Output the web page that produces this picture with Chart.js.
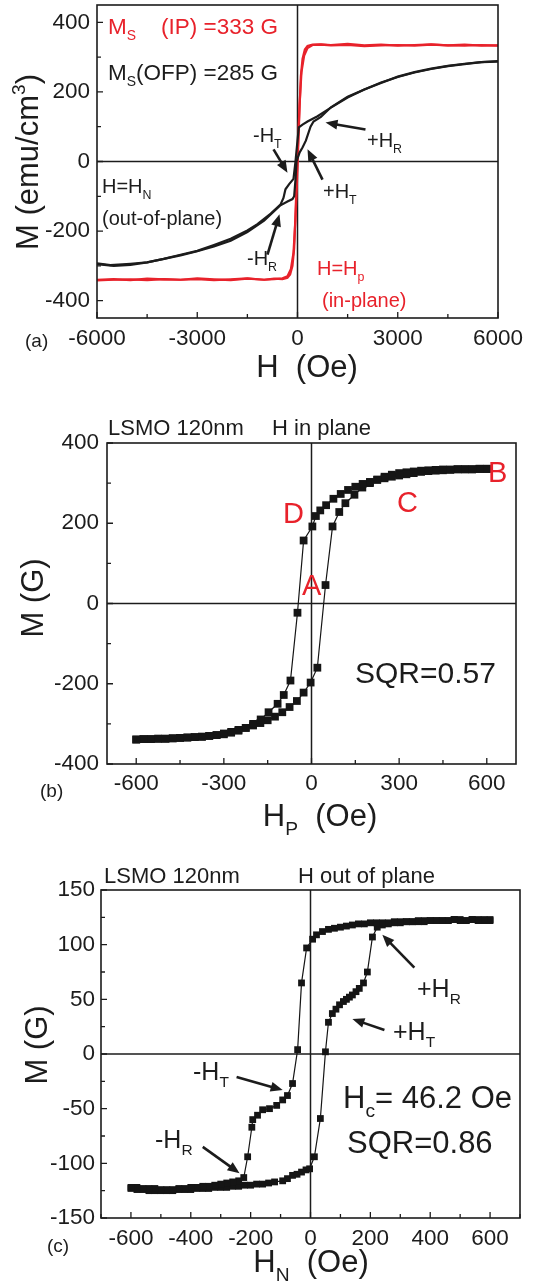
<!DOCTYPE html>
<html>
<head>
<meta charset="utf-8">
<script src="https://cdn.jsdelivr.net/npm/chart.js@4.4.1/dist/chart.umd.min.js"></script>
<style>
  body { margin: 0; background: #fff; width: 550px; height: 1286px; position: relative; overflow: hidden; }
  canvas { position: absolute; left: 0; }
</style>
</head>
<body>
<canvas id="chartA" width="550" height="435" style="top:-35px"></canvas>
<canvas id="chartB" width="550" height="440" style="top:403px"></canvas>
<canvas id="chartC" width="550" height="436" style="top:850px"></canvas>
<script>
// Panel (a): in-plane (red) and out-of-plane (black) loops, H in Oe, M in emu/cm3
const ipDownH = [6000, 5500, 5000, 4500, 4000, 3500, 3000, 2500, 2000, 1500, 1000, 700, 450, 300, 200, 120, 60, 20, -20, -60, -100, -150, -220, -300, -450, -700, -1000, -1500, -2000, -2500, -3000, -3500, -4000, -4500, -5000, -5500, -6000];
const ipDownM = [333, 335, 333, 334, 336, 333, 335, 334, 332, 335, 334, 336, 335, 326, 305, 258, 160, 60, -40, -150, -250, -300, -325, -334, -338, -337, -340, -336, -339, -341, -338, -340, -338, -341, -339, -340, -342];
const ipUpH = [-6000, -5500, -5000, -4500, -4000, -3500, -3000, -2500, -2000, -1500, -1000, -700, -450, -300, -200, -120, -60, -20, 20, 60, 100, 150, 220, 300, 450, 700, 1000, 1500, 2000, 2500, 3000, 3500, 4000, 4500, 5000, 5500, 6000];
const ipUpM = [-340, -338, -341, -337, -339, -340, -336, -339, -341, -337, -340, -338, -336, -330, -310, -262, -165, -70, 40, 150, 245, 295, 322, 332, 336, 337, 335, 338, 334, 336, 333, 335, 337, 334, 336, 333, 334];

const ofpDownH = [6000, 5500, 5000, 4500, 4000, 3500, 3000, 2500, 2000, 1500, 1000, 600, 300, 150, 40, 0, -60, -120, -250, -360, -420, -510, -800, -1200, -1500, -2000, -2500, -3000, -3500, -4000, -4500, -5000, -5600, -6000];
const ofpDownM = [287, 286, 280, 274, 266, 256, 243, 227, 207, 184, 155, 130, 115, 106, 98, 60, 0, -50, -65, -80, -105, -124, -150, -180, -198, -222, -240, -257, -268, -280, -290, -294, -298, -293];
const ofpUpH = [-6000, -5500, -5000, -4500, -4000, -3500, -3000, -2500, -2000, -1500, -1000, -510, -300, -150, -100, -60, -30, 60, 150, 250, 390, 480, 700, 1000, 1500, 2000, 2500, 3000, 3500, 4000, 4500, 5000, 5500, 6000];
const ofpUpM = [-295, -300, -297, -290, -280, -270, -258, -244, -228, -203, -170, -126, -115, -108, -100, -52, 0, 25, 40, 60, 100, 115, 128, 156, 186, 207, 226, 244, 257, 267, 275, 281, 286, 289];

// Panel (b): H in plane, M in G
const bDownH = [600, 575, 550, 525, 500, 475, 450, 425, 400, 375, 350, 325, 300, 275, 250, 225, 200, 175, 150, 125, 100, 75, 50, 30, 15, 3, -27, -48, -72, -95, -116, -147, -174, -200, -225, -250, -275, -300, -325, -350, -375, -400, -425, -450, -475, -500, -525, -550, -575, -600];
const bDownM = [335, 335, 334, 334, 334, 333, 332, 331, 330, 328, 325, 322, 319, 316, 312, 308, 303, 298, 291, 283, 273, 261, 245, 232, 218, 192, 157, -23, -192, -228, -250, -271, -289, -300, -310, -317, -322, -326, -328, -330, -332, -333, -334, -335, -336, -337, -337, -338, -338, -339];
const bUpH = [-600, -575, -550, -525, -500, -475, -450, -425, -400, -375, -350, -325, -300, -275, -250, -225, -200, -175, -150, -125, -100, -75, -50, -27, -3, 20, 48, 72, 95, 116, 147, 174, 200, 225, 250, 275, 300, 325, 350, 375, 400, 425, 450, 475, 500, 525, 550, 575, 600];
const bUpM = [-339, -338, -338, -337, -337, -336, -335, -334, -333, -332, -330, -328, -324, -320, -315, -310, -304, -298, -291, -282, -271, -258, -243, -222, -197, -160, 46, 192, 228, 250, 271, 289, 300, 309, 316, 321, 325, 327, 329, 331, 332, 333, 334, 334, 335, 335, 335, 336, 336];

// Panel (c): H out of plane, M in G
const cDownH = [600, 580, 560, 540, 520, 500, 480, 460, 440, 420, 400, 380, 360, 340, 320, 300, 280, 260, 240, 220, 200, 180, 160, 140, 120, 100, 80, 60, 40, 20, 7, -13, -30, -43, -60, -77, -93, -113, -137, -160, -177, -193, -196, -210, -223, -240, -260, -280, -300, -320, -340, -360, -380, -400, -420, -440, -460, -480, -500, -520, -540, -560, -580, -600];
const cDownM = [123, 123, 122, 123, 122, 122, 123, 122, 122, 122, 122, 121, 122, 121, 121, 121, 121, 120, 120, 120, 120, 119, 119, 118, 117, 116, 115, 114, 112, 109, 105, 97, 65, 4, -27, -38, -42, -47, -50, -51, -56, -60, -67, -94, -113, -116, -117, -118, -119, -120, -121, -121, -122, -122, -123, -123, -124, -124, -124, -123, -123, -123, -122, -122];
const cUpH = [-600, -580, -560, -540, -520, -500, -480, -460, -440, -420, -400, -380, -360, -340, -320, -300, -280, -260, -240, -220, -200, -180, -160, -140, -120, -93, -77, -60, -45, -30, -15, -3, 13, 33, 50, 60, 73, 85, 97, 110, 120, 130, 140, 152, 163, 177, 190, 207, 223, 240, 260, 280, 300, 320, 340, 360, 380, 400, 420, 440, 460, 480, 500, 520, 540, 560, 580, 600];
const cUpM = [-123, -124, -124, -125, -125, -125, -125, -125, -124, -124, -124, -123, -123, -123, -122, -122, -122, -121, -121, -120, -120, -119, -119, -118, -117, -116, -114, -111, -110, -108, -106, -105, -94, -59, 2, 29, 37, 41, 45, 48, 50, 52, 54, 57, 60, 65, 75, 107, 116, 118, 119, 120, 120, 121, 121, 121, 122, 122, 122, 122, 122, 123, 123, 122, 123, 123, 122, 122];

const FONT = '"Liberation Sans", Arial, sans-serif';
const RED = '#e8222b';
const INK = '#1c1c1c';

function pts(hs, ms) {
  return hs.map((h, i) => ({ x: h, y: ms[i] }));
}

// text with sub/superscripts, parts = [[text, 'sub'|'sup'|undefined], ...]
function drawRich(ctx, parts, x, y, size, color, align) {
  let w = 0;
  const pieces = parts.map(p => {
    const kind = p[1] || '';
    const s = kind ? size * 0.62 : size;
    ctx.font = s + 'px ' + FONT;
    const pw = ctx.measureText(p[0]).width;
    w += pw;
    return { text: p[0], kind, s, pw };
  });
  let cx = align === 'center' ? x - w / 2 : x;
  ctx.fillStyle = color;
  ctx.textAlign = 'left';
  ctx.textBaseline = 'alphabetic';
  pieces.forEach(p => {
    ctx.font = p.s + 'px ' + FONT;
    const dy = p.kind === 'sub' ? size * 0.28 : p.kind === 'sup' ? -size * 0.42 : 0;
    ctx.fillText(p.text, cx, y + dy);
    cx += p.pw;
  });
}

function drawArrow(ctx, x1, y1, x2, y2) {
  const ang = Math.atan2(y2 - y1, x2 - x1);
  const c = Math.cos(ang), s = Math.sin(ang);
  const head = 12, half = 5;
  ctx.strokeStyle = INK;
  ctx.fillStyle = INK;
  ctx.lineWidth = 2.6;
  ctx.beginPath();
  ctx.moveTo(x1, y1);
  ctx.lineTo(x2 - c * head * 0.8, y2 - s * head * 0.8);
  ctx.stroke();
  const bx = x2 - c * head, by = y2 - s * head;
  ctx.beginPath();
  ctx.moveTo(x2, y2);
  ctx.lineTo(bx - half * s, by + half * c);
  ctx.lineTo(bx + half * s, by - half * c);
  ctx.closePath();
  ctx.fill();
}

const decor = {
  id: 'decor',
  beforeDatasetsDraw(chart, args, opts) {
    const { ctx, chartArea: a, scales: { x, y } } = chart;
    ctx.save();
    ctx.strokeStyle = INK;
    ctx.lineWidth = 1.5;
    const x0 = x.getPixelForValue(0), y0 = y.getPixelForValue(0);
    ctx.beginPath();
    ctx.moveTo(x0, a.top); ctx.lineTo(x0, a.bottom);
    ctx.moveTo(a.left, y0); ctx.lineTo(a.right, y0);
    ctx.stroke();
    ctx.restore();
  },
  afterDatasetsDraw(chart, args, opts) {
    const { ctx, chartArea: a, scales: { x, y } } = chart;
    ctx.save();
    // frame
    ctx.strokeStyle = INK;
    ctx.lineWidth = 1.6;
    ctx.strokeRect(a.left, a.top, a.right - a.left, a.bottom - a.top);
    // inward ticks on bottom and left
    ctx.lineWidth = 1.3;
    ctx.beginPath();
    x.ticks.forEach(t => {
      if (Math.abs(t.value % opts.xStep) > 1e-6) return;
      const major = Math.abs(t.value % opts.xLabel) < 1e-6;
      const px = x.getPixelForValue(t.value);
      ctx.moveTo(px, a.bottom);
      ctx.lineTo(px, a.bottom - (major ? 6 : 4));
    });
    y.ticks.forEach(t => {
      if (Math.abs(t.value % opts.yStep) > 1e-6) return;
      const major = Math.abs(t.value % opts.yLabel) < 1e-6;
      const py = y.getPixelForValue(t.value);
      ctx.moveTo(a.left, py);
      ctx.lineTo(a.left + (major ? 6 : 4), py);
    });
    ctx.stroke();
    // arrows in data coordinates
    (opts.arrows || []).forEach(ar => {
      drawArrow(ctx, x.getPixelForValue(ar[0]), y.getPixelForValue(ar[1]),
        x.getPixelForValue(ar[2]), y.getPixelForValue(ar[3]));
    });
    // labels in page coordinates
    (opts.texts || []).forEach(t => {
      const ty = t.y - opts.top;
      if (t.rotate) {
        ctx.save();
        ctx.translate(t.x, ty);
        ctx.rotate(-Math.PI / 2);
        drawRich(ctx, t.parts, 0, t.size * 0.36, t.size, t.color || INK, 'center');
        ctx.restore();
      } else {
        drawRich(ctx, t.parts, t.x, ty, t.size, t.color || INK, t.align);
      }
    });
    ctx.restore();
  }
};

function makePanel(id, p) {
  const tickFont = { family: FONT, size: 22.5 };
  return new Chart(document.getElementById(id), {
    type: 'scatter',
    data: { datasets: p.datasets },
    options: {
      responsive: false,
      animation: false,
      events: [],
      layout: { padding: { left: 0, right: p.right, top: 40, bottom: 0 } },
      plugins: {
        legend: { display: false },
        tooltip: { enabled: false },
        decor: {
          top: p.top, xStep: p.xStep, xLabel: p.xLabel, yStep: p.yStep, yLabel: p.yLabel,
          arrows: p.arrows, texts: p.texts
        }
      },
      scales: {
        x: {
          type: 'linear', min: p.xMin, max: p.xMax,
          grid: { display: false, drawTicks: false }, border: { display: false },
          ticks: {
            stepSize: p.xTick || p.xStep, includeBounds: false, autoSkip: false, maxRotation: 0,
            color: INK, font: tickFont, padding: p.xPad,
            callback: v => (Math.abs(v % p.xLabel) < 1e-6 ? String(v) : '')
          },
          afterFit: s => { s.height = p.xHeight; }
        },
        y: {
          type: 'linear', min: p.yMin, max: p.yMax,
          grid: { display: false, drawTicks: false }, border: { display: false },
          ticks: {
            stepSize: p.yTick || p.yStep, includeBounds: false, autoSkip: false,
            color: INK, font: tickFont, padding: p.yPad,
            callback: v => (Math.abs(v % p.yLabel) < 1e-6 ? String(v) : '')
          },
          afterFit: s => { s.width = p.yWidth; }
        }
      }
    },
    plugins: [decor]
  });
}

function lineSet(hs, ms, color) {
  return { data: pts(hs, ms), showLine: true, borderColor: color, borderWidth: 2.2, pointRadius: 0, tension: 0 };
}
function markSet(hs, ms, r) {
  return {
    data: pts(hs, ms), showLine: true, borderColor: '#151515', borderWidth: 1.2,
    pointStyle: 'rect', pointRadius: r, pointBackgroundColor: '#151515', pointBorderColor: '#151515', pointBorderWidth: 0
  };
}

makePanel('chartA', {
  top: -35, right: 52, yWidth: 97, xHeight: 82, xPad: 7, yPad: 7,
  xMin: -6000, xMax: 6000, xStep: 1500, xLabel: 3000,
  yMin: -450, yMax: 450, yTick: 50, yStep: 100, yLabel: 200,
  datasets: [
    lineSet(ofpDownH, ofpDownM, INK), lineSet(ofpUpH, ofpUpM, INK),
    lineSet(ipDownH, ipDownM, RED), lineSet(ipUpH, ipUpM, RED)
  ],
  arrows: [[-718, 35, -300, -32], [2035, 92, 838, 112], [748, -52, 300, 35], [-898, -268, -539, -152]],
  texts: [
    { parts: [['M'], ['S', 'sub'], ['    (IP) =333 G']], x: 108, y: 34, size: 22.5, color: RED },
    { parts: [['M'], ['S', 'sub'], ['(OFP) =285 G']], x: 108, y: 80, size: 22.5 },
    { parts: [['-H'], ['T', 'sub']], x: 253, y: 142, size: 20 },
    { parts: [['+H'], ['R', 'sub']], x: 367, y: 147, size: 20 },
    { parts: [['+H'], ['T', 'sub']], x: 323, y: 198, size: 20 },
    { parts: [['H=H'], ['N', 'sub']], x: 102, y: 193, size: 20 },
    { parts: [['(out-of-plane)']], x: 102, y: 225, size: 20 },
    { parts: [['-H'], ['R', 'sub']], x: 247, y: 265, size: 20 },
    { parts: [['H=H'], ['p', 'sub']], x: 317, y: 275, size: 20, color: RED },
    { parts: [['(in-plane)']], x: 322, y: 307, size: 20, color: RED },
    { parts: [['(a)']], x: 25, y: 347, size: 19 },
    { parts: [['H  (Oe)']], x: 307, y: 377, size: 31, align: 'center' },
    { parts: [['M (emu/cm'], ['3', 'sup'], [')']], x: 27, y: 162, size: 31, rotate: true }
  ]
});

makePanel('chartB', {
  top: 403, right: 34, yWidth: 107, xHeight: 79, xPad: 6, yPad: 8,
  xMin: -700, xMax: 700, xStep: 150, xLabel: 300,
  yMin: -400, yMax: 400, yStep: 100, yLabel: 200,
  datasets: [markSet(bDownH, bDownM, 5.5), markSet(bUpH, bUpM, 5.5)],
  texts: [
    { parts: [['LSMO 120nm']], x: 108, y: 435, size: 22 },
    { parts: [['H in plane']], x: 272, y: 435, size: 22 },
    { parts: [['D']], x: 283, y: 523, size: 29, color: RED },
    { parts: [['A']], x: 302, y: 595, size: 29, color: RED },
    { parts: [['C']], x: 397, y: 512, size: 29, color: RED },
    { parts: [['B']], x: 488, y: 482, size: 29, color: RED },
    { parts: [['SQR=0.57']], x: 355, y: 683, size: 30 },
    { parts: [['(b)']], x: 40, y: 797, size: 19 },
    { parts: [['H'], ['P', 'sub'], ['  (Oe)']], x: 320, y: 826, size: 31, align: 'center' },
    { parts: [['M (G)']], x: 32, y: 598, size: 31, rotate: true }
  ]
});

makePanel('chartC', {
  top: 850, right: 30, yWidth: 101, xHeight: 68, xPad: 7, yPad: 6,
  xMin: -700, xMax: 700, xStep: 100, xLabel: 200,
  yMin: -150, yMax: 150, yStep: 25, yLabel: 50,
  datasets: [markSet(cDownH, cDownM, 4.8), markSet(cUpH, cUpM, 4.8)],
  arrows: [[347, 79, 240, 109], [247, 22, 140, 32], [-247, -21, -93, -33], [-360, -85, -237, -109]],
  texts: [
    { parts: [['LSMO 120nm']], x: 104, y: 883, size: 22 },
    { parts: [['H out of plane']], x: 298, y: 883, size: 22 },
    { parts: [['+H'], ['R', 'sub']], x: 417, y: 997, size: 25 },
    { parts: [['+H'], ['T', 'sub']], x: 393, y: 1040, size: 25 },
    { parts: [['-H'], ['T', 'sub']], x: 193, y: 1080, size: 25 },
    { parts: [['-H'], ['R', 'sub']], x: 155, y: 1148, size: 25 },
    { parts: [['H'], ['c', 'sub'], ['= 46.2 Oe']], x: 343, y: 1108, size: 31 },
    { parts: [['SQR=0.86']], x: 347, y: 1153, size: 31 },
    { parts: [['(c)']], x: 47, y: 1252, size: 19 },
    { parts: [['H'], ['N', 'sub'], ['  (Oe)']], x: 311, y: 1272, size: 31, align: 'center' },
    { parts: [['M (G)']], x: 36, y: 1045, size: 31, rotate: true }
  ]
});
</script>
</body>
</html>
